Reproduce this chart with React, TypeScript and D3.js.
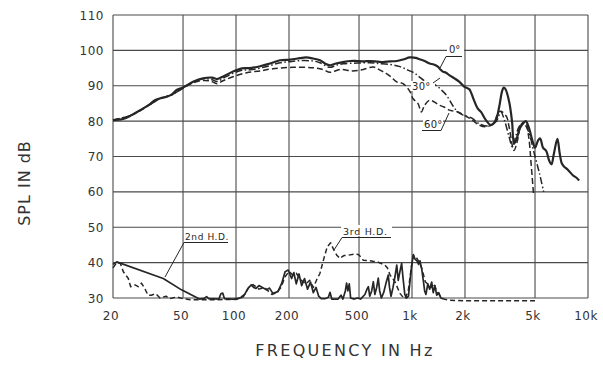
import React from "react";
import * as d3 from "d3";

// frequency response, 0 / 30 / 60 degrees off axis
const resp0: [number, number][] = [
  [20, 80.3], [22.8, 80.6], [25.5, 81.7], [28.5, 83.1], [31.8, 84.5], [34.6, 85.9], [36.8, 86.4],
  [40.3, 86.9], [43, 87.5], [46, 88.8], [50, 89.5], [57, 91.1], [65, 92.1], [73, 92.3], [78, 91.9],
  [85, 92.7], [97, 94.1], [108, 94.9], [120, 95], [137, 95.5], [156, 96.3], [178, 97.2], [203, 97.4],
  [231, 97.8], [250, 98], [274, 97.7], [300, 97.2], [320, 96.3], [342, 95.8], [370, 96.3], [406, 96.7],
  [446, 97], [486, 97], [530, 96.9], [577, 97], [640, 96.8], [684, 96.7], [750, 96.9], [819, 97],
  [900, 97.5], [970, 98], [1050, 97.9], [1104, 97.5], [1180, 97], [1258, 96.3], [1330, 96],
  [1402, 95.4], [1450, 94.6], [1495, 94], [1560, 93.7], [1629, 93], [1743, 92.1], [1860, 91.1],
  [1985, 89.7], [2050, 89.4], [2118, 89], [2230, 86.4], [2360, 83.6], [2465, 82.6], [2630, 80.3],
  [2807, 78.9], [2995, 80.3], [3128, 84], [3250, 88.5], [3320, 89.5], [3400, 89], [3565, 85.5],
  [3700, 80], [3800, 73.7], [3900, 74.5], [4100, 78], [4300, 79.5], [4430, 80], [4600, 78.4],
  [4800, 75], [5000, 72.5], [5200, 74.5], [5350, 75.1], [5550, 72.5], [5800, 71.5], [6000, 69],
  [6200, 67.8], [6400, 70.8], [6700, 75], [6900, 71], [7100, 68], [7300, 67.2], [7700, 66.2],
  [8200, 64.7], [8600, 64], [8900, 63.2],
];

const resp30: [number, number][] = [
  [20, 80.3], [25.5, 81.7], [31.8, 84.4], [36.8, 86.3], [43, 87.4], [50, 89.4], [57, 91], [65, 92],
  [73, 91.7], [78, 91.2], [85, 92.2], [97, 93.6], [108, 94.4], [120, 94.5], [137, 95], [156, 95.7],
  [178, 96.5], [203, 96.8], [231, 97.1], [274, 97], [300, 96.5], [342, 95.2], [370, 95.8],
  [406, 96.2], [486, 96.4], [577, 96.5], [640, 96.3], [750, 96], [855, 95.4], [950, 94.4],
  [1040, 93.5], [1100, 92.5], [1180, 91.4], [1290, 90.8], [1380, 90], [1470, 88.8], [1570, 87.3],
  [1700, 84.5], [1820, 82.6], [1950, 81.7], [2200, 80.8], [2400, 79.3], [2700, 78.6], [3000, 79.8],
  [3200, 82.6], [3350, 80.3], [3560, 75.6], [3720, 72.7], [3900, 76], [4060, 78.4], [4300, 79.3],
  [4600, 77], [4900, 71.7], [5300, 65.2], [5600, 60],
];

const resp60: [number, number][] = [
  [20, 80.3], [25.5, 81.7], [31.8, 84.4], [36.8, 86.3], [43, 87.4], [50, 89.3], [57, 90.8],
  [65, 91.5], [72, 91.3], [78, 90.6], [85, 91.5], [97, 92.6], [115, 93.7], [137, 94.2], [162, 94.8],
  [211, 95.2], [274, 95.1], [312, 94.6], [342, 93.8], [391, 94.6], [460, 94.2], [528, 94.6],
  [603, 95.3], [654, 94.5], [712, 93.5], [760, 92.5], [819, 91.1], [889, 90.6], [970, 88.5],
  [1012, 86.4], [1080, 85], [1130, 82.6], [1180, 84.5], [1260, 85.9], [1340, 85.4], [1430, 84.5],
  [1520, 84], [1630, 83.1], [1700, 82.9], [1820, 82.6], [1980, 81.7], [2200, 80.3], [2400, 78.9],
  [2630, 78.4], [2900, 79.3], [3100, 82.6], [3200, 82.8], [3450, 81.2], [3560, 78.4], [3800, 71.7],
  [3950, 74], [4200, 79.3], [4400, 79.8], [4600, 75.6], [4750, 68], [4900, 59.5],
];

// harmonic distortion
const hd2: [number, number][] = [
  [20, 39.5], [21, 40.2], [38.6, 35.5], [49, 32.3], [62, 29.7], [66, 29.9], [68, 30.4], [70, 29.8],
  [80, 29.7], [82, 31.2], [84, 31.4], [86, 29.8], [100, 29.6], [110, 30.4], [117, 32.7], [122, 33.7],
  [126, 33], [130, 32.7], [135, 33.5], [139, 33.2], [149, 32.3], [155, 32.8], [162, 31.3],
  [173, 31.8], [182, 34.2], [190, 37.4], [198, 37.9], [207, 35.5], [213, 37.2], [220, 34],
  [228, 36.8], [236, 33.5], [245, 35.5], [255, 32.5], [265, 34.5], [275, 31.5], [285, 33],
  [295, 30.5], [305, 29.8], [320, 29.8], [335, 30.2], [342, 31.6], [350, 29.7], [380, 29.7],
  [395, 30.8], [405, 29.7], [418, 32], [425, 34.2], [432, 32], [440, 34], [448, 30], [470, 29.7],
  [490, 30], [510, 29.7], [540, 31], [555, 32.5], [565, 33.2], [575, 30.5], [590, 32], [603, 34.6],
  [615, 31], [630, 33], [643, 35.6], [655, 32], [670, 30], [690, 31.5], [710, 34], [733, 36.5],
  [745, 33], [760, 30.5], [780, 33], [800, 36], [819, 39.3], [835, 35], [850, 37], [873, 39.8],
  [890, 35.5], [910, 31], [930, 30], [955, 30.5], [975, 35], [995, 39], [1017, 42.3], [1040, 41],
  [1067, 40.5], [1090, 39.5], [1110, 40.5], [1137, 38], [1159, 35], [1180, 32], [1200, 31],
  [1230, 34], [1260, 32.5], [1294, 34.5], [1320, 31.5], [1350, 33.5], [1381, 30.8], [1420, 31.5],
  [1460, 30], [1500, 29.8],
];

const hd3: [number, number][] = [
  [20, 38.5], [21, 40], [22, 39.8], [22.9, 37.4], [24.4, 35.6], [25.2, 33.2], [26.7, 33.7],
  [27.8, 33.2], [29, 34.2], [30.3, 32.7], [31.6, 30.8], [33, 30.8], [35, 31.2], [37, 30],
  [40, 30.5], [42, 29.8], [46, 30.3], [50, 29.8], [55, 29.5], [70, 29.5], [95, 29.6], [105, 30],
  [112, 31], [118, 33], [125, 33.8], [135, 32.5], [145, 33], [160, 31], [170, 31.5], [180, 33],
  [190, 36], [200, 37.5], [210, 36.5], [220, 37], [235, 35], [250, 34], [262, 35], [275, 33],
  [287, 35.1], [300, 37], [315, 41], [330, 44.5], [345, 45.6], [360, 43.5], [375, 42], [390, 41.2],
  [410, 42], [434, 42.1], [470, 42.4], [495, 42.3], [515, 41.5], [528, 40.7], [560, 40.6],
  [600, 40.4], [630, 40.3], [665, 39.8], [702, 39.3], [725, 38.5], [750, 36.5], [800, 34.6],
  [854, 31.3], [890, 30.2], [910, 29.8], [951, 31.8], [975, 36], [995, 39.3], [1020, 42.1],
  [1067, 41.2], [1100, 40], [1137, 38.4], [1190, 34.6], [1243, 33.7], [1290, 33], [1327, 34.1],
  [1388, 31.8], [1449, 30.4], [1500, 29.8], [1600, 29.4], [2000, 29.2], [5000, 29.2],
];

const freqTicks = [20, 50, 100, 200, 500, 1000, 2000, 5000, 10000];
const freqLabels = ["20", "50", "100", "200", "500", "1k", "2k", "5k", "10k"];
const splTicks = [30, 40, 50, 60, 70, 80, 90, 100, 110];

const W = 603;
const H = 373;
const ink = "#262626";
const gridInk = "#4a4a4a";
const font = "'DejaVu Sans', Arial, sans-serif";

export default function App() {
  const x = d3.scaleLog().domain([20, 10000]).range([113, 588]);
  const y = d3.scaleLinear().domain([30, 110]).range([298, 15]);

  const smooth = d3
    .line<[number, number]>()
    .x((d) => x(d[0]))
    .y((d) => y(d[1]))
    .curve(d3.curveCatmullRom.alpha(0.5));
  const jagged = d3
    .line<[number, number]>()
    .x((d) => x(d[0]))
    .y((d) => y(d[1]));

  return (
    <svg
      width={W}
      height={H}
      style={{ position: "absolute", left: 0, top: 0, background: "#fff" }}
    >
      {/* grid */}
      <g stroke={gridInk} strokeWidth={1.1} fill="none">
        {freqTicks.map((f) => (
          <line key={"v" + f} x1={x(f)} x2={x(f)} y1={y(110)} y2={y(30)} />
        ))}
        {splTicks.map((s) => (
          <line key={"h" + s} x1={x(20)} x2={x(10000)} y1={y(s)} y2={y(s)} />
        ))}
      </g>

      {/* tick labels */}
      <g fontFamily={font} fontSize={12} fill="#333">
        {splTicks.map((s) => (
          <text key={s} x={104} y={y(s) + 4.5} textAnchor="end" letterSpacing={0.5}>
            {s}
          </text>
        ))}
        {freqTicks.map((f, i) => (
          <text key={f} x={x(f) - 2} y={320} textAnchor="middle" letterSpacing={0.5}>
            {freqLabels[i]}
          </text>
        ))}
      </g>

      <text
        transform="translate(30,183) rotate(-90)"
        textAnchor="middle"
        fontFamily={font}
        fontSize={16}
        letterSpacing={1}
        fill="#333"
      >
        SPL IN dB
      </text>
      <text
        x={345}
        y={356}
        textAnchor="middle"
        fontFamily={font}
        fontSize={16}
        letterSpacing={2.3}
        fill="#333"
      >
        FREQUENCY IN Hz
      </text>

      {/* curves */}
      <g fill="none" strokeLinejoin="round">
        <path d={smooth(resp60) ?? ""} stroke={ink} strokeWidth={1.5} strokeDasharray="6 3" />
        <path d={smooth(resp30) ?? ""} stroke={ink} strokeWidth={1.5} strokeDasharray="7 2.5 1.5 2.5" />
        <path d={smooth(resp0) ?? ""} stroke={ink} strokeWidth={2.2} />
        <path d={jagged(hd3) ?? ""} stroke={ink} strokeWidth={1.5} strokeDasharray="5 3" />
        <path d={jagged(hd2) ?? ""} stroke={ink} strokeWidth={1.7} />
      </g>

      {/* annotations */}
      <g fontFamily={font} fill={ink} stroke="none">
        <rect x={447} y={44} width={17} height={10} fill="#fff" />
        <text x={449} y={53} fontSize={10}>0°</text>
        <rect x={411} y={81} width={24} height={10} fill="#fff" />
        <text x={412} y={90} fontSize={10} letterSpacing={0.3}>30°</text>
        <rect x={423} y={118} width={20} height={10} fill="#fff" />
        <text x={424} y={128} fontSize={10} letterSpacing={0.3}>60°</text>
        <text x={185} y={240} fontSize={9} letterSpacing={0.6}>2nd H.D.</text>
        <rect x={341} y={225} width={51} height={11} fill="#fff" />
        <text x={343} y={235} fontSize={9.5} letterSpacing={0.7}>3rd H.D.</text>
      </g>
      <g stroke={ink} strokeWidth={1} fill="none">
        <polyline points="462,56.5 446,56.5 440,68" />
        <polyline points="433,83 440,78" />
        <polyline points="441,130.5 422,130.5" />
        <polyline points="441,130.5 449,113" />
        <polyline points="228,242.5 184,242.5 165,277" />
        <polyline points="391,237.5 342,237.5 334,250" />
      </g>
    </svg>
  );
}
